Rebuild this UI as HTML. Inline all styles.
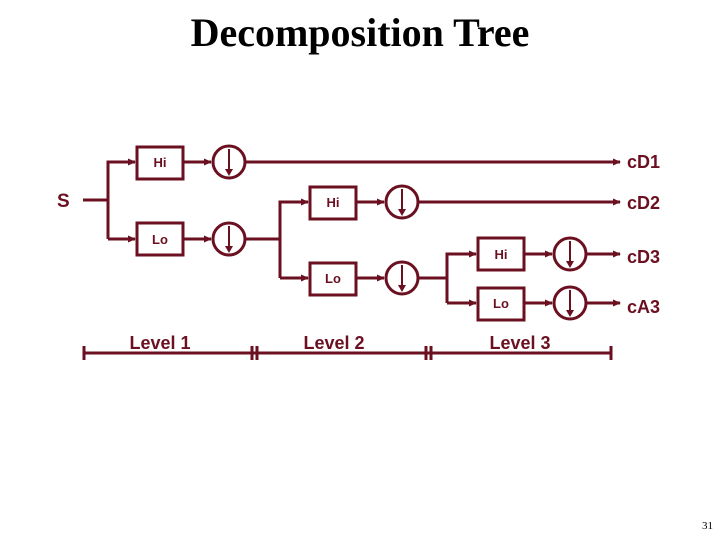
<!DOCTYPE html>
<html><head><style>
html,body{margin:0;padding:0;background:#fff;width:720px;height:540px;overflow:hidden}
svg{display:block}
.t{font-family:"Liberation Sans",Arial,sans-serif;font-weight:bold;fill:#6b1020}
</style></head><body>
<svg width="720" height="540" viewBox="0 0 720 540" xmlns="http://www.w3.org/2000/svg">
<defs>
<marker id="a" markerWidth="8" markerHeight="8" refX="7" refY="4" orient="auto" markerUnits="userSpaceOnUse">
<path d="M0,0.5 L8,4 L0,7.5 Z" fill="#6b1020"/></marker>
</defs>
<text x="360" y="46" text-anchor="middle" font-family="Liberation Serif,serif" font-weight="bold" font-size="40" fill="#000">Decomposition Tree</text>
<g stroke="#6b1020" stroke-width="3" fill="none">
<line x1="83" y1="200" x2="108" y2="200"/>
<polyline points="108,239 108,162 135,162" marker-end="url(#a)"/>
<line x1="108" y1="239" x2="135" y2="239" marker-end="url(#a)"/>
<rect x="137" y="147" width="46" height="32"/>
<rect x="137" y="223" width="46" height="32"/>
<line x1="183" y1="162" x2="211" y2="162" marker-end="url(#a)"/>
<line x1="183" y1="239" x2="211" y2="239" marker-end="url(#a)"/>
<circle cx="229" cy="162" r="16"/>
<circle cx="229" cy="239" r="16"/>
<line x1="245" y1="162" x2="620" y2="162" marker-end="url(#a)"/>
<line x1="245" y1="239" x2="280" y2="239"/>
<polyline points="280,278 280,202 308,202" marker-end="url(#a)"/>
<line x1="280" y1="278" x2="308" y2="278" marker-end="url(#a)"/>
<rect x="310" y="187" width="46" height="32"/>
<rect x="310" y="263" width="46" height="32"/>
<line x1="356" y1="202" x2="384" y2="202" marker-end="url(#a)"/>
<line x1="356" y1="278" x2="384" y2="278" marker-end="url(#a)"/>
<circle cx="402" cy="202" r="16"/>
<circle cx="402" cy="278" r="16"/>
<line x1="418" y1="202" x2="620" y2="202" marker-end="url(#a)"/>
<line x1="418" y1="278" x2="447" y2="278"/>
<polyline points="447,303 447,254 476,254" marker-end="url(#a)"/>
<line x1="447" y1="303" x2="476" y2="303" marker-end="url(#a)"/>
<rect x="478" y="238" width="46" height="32"/>
<rect x="478" y="288" width="46" height="32"/>
<line x1="524" y1="254" x2="552" y2="254" marker-end="url(#a)"/>
<line x1="524" y1="303" x2="552" y2="303" marker-end="url(#a)"/>
<circle cx="570" cy="254" r="16"/>
<circle cx="570" cy="303" r="16"/>
<line x1="586" y1="254" x2="620" y2="254" marker-end="url(#a)"/>
<line x1="586" y1="303" x2="620" y2="303" marker-end="url(#a)"/>
<line x1="83" y1="353" x2="612" y2="353"/>
<line x1="84" y1="346" x2="84" y2="360"/>
<line x1="252" y1="346" x2="252" y2="360"/>
<line x1="257" y1="346" x2="257" y2="360"/>
<line x1="426" y1="346" x2="426" y2="360"/>
<line x1="431" y1="346" x2="431" y2="360"/>
<line x1="611" y1="346" x2="611" y2="360"/>
</g>
<g stroke="#6b1020" stroke-width="2">
<line x1="229" y1="149" x2="229" y2="170"/>
<line x1="229" y1="226" x2="229" y2="247"/>
<line x1="402" y1="189" x2="402" y2="210"/>
<line x1="402" y1="265" x2="402" y2="286"/>
<line x1="570" y1="241" x2="570" y2="262"/>
<line x1="570" y1="290" x2="570" y2="311"/>
</g>
<g fill="#6b1020">
<path d="M225,169 L233,169 L229,176 Z"/>
<path d="M225,246 L233,246 L229,253 Z"/>
<path d="M398,209 L406,209 L402,216 Z"/>
<path d="M398,285 L406,285 L402,292 Z"/>
<path d="M566,261 L574,261 L570,268 Z"/>
<path d="M566,310 L574,310 L570,317 Z"/>
</g>
<text class="t" x="57" y="207" font-size="19">S</text>
<text class="t" x="160" y="167" font-size="13" text-anchor="middle">Hi</text>
<text class="t" x="160" y="244" font-size="13" text-anchor="middle">Lo</text>
<text class="t" x="333" y="207" font-size="13" text-anchor="middle">Hi</text>
<text class="t" x="333" y="283" font-size="13" text-anchor="middle">Lo</text>
<text class="t" x="501" y="259" font-size="13" text-anchor="middle">Hi</text>
<text class="t" x="501" y="308" font-size="13" text-anchor="middle">Lo</text>
<text class="t" x="627" y="168" font-size="18">cD1</text>
<text class="t" x="627" y="209" font-size="18">cD2</text>
<text class="t" x="627" y="263" font-size="18">cD3</text>
<text class="t" x="627" y="313" font-size="18">cA3</text>
<text class="t" x="160" y="349" font-size="18" text-anchor="middle">Level 1</text>
<text class="t" x="334" y="349" font-size="18" text-anchor="middle">Level 2</text>
<text class="t" x="520" y="349" font-size="18" text-anchor="middle">Level 3</text>
<text x="713" y="529" text-anchor="end" font-family="Liberation Serif,serif" font-size="11" fill="#000">31</text>
</svg>
</body></html>
